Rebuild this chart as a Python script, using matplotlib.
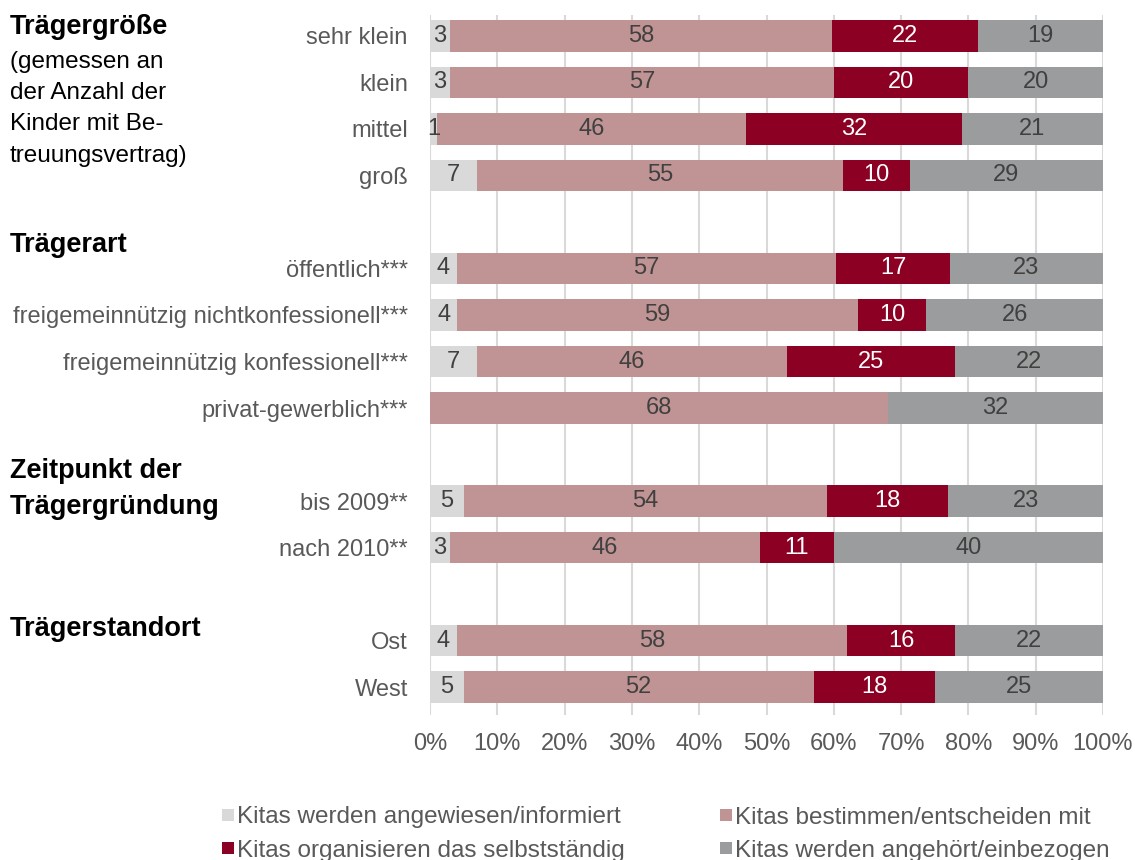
import matplotlib
matplotlib.use("Agg")
import matplotlib.pyplot as plt
from matplotlib.patches import Rectangle
import numpy as np

plt.rcParams['font.family'] = ['Liberation Sans', 'DejaVu Sans']

categories = ["sehr klein", "klein", "mittel", "groß",
              "öffentlich***", "freigemeinnützig nichtkonfessionell***",
              "freigemeinnützig konfessionell***", "privat-gewerblich***",
              "bis 2009**", "nach 2010**",
              "Ost", "West"]
positions = [0, 1, 2, 3, 5, 6, 7, 8, 10, 11, 13, 14]

series_names = ["Kitas werden angewiesen/informiert",
                "Kitas bestimmen/entscheiden mit",
                "Kitas organisieren das selbstständig",
                "Kitas werden angehört/einbezogen"]

informiert = [3, 3, 1, 7, 4, 4, 7, 0, 5, 3, 4, 5]
bestimmen = [58, 57, 46, 55, 57, 59, 46, 68, 54, 46, 58, 52]
organisieren = [22, 20, 32, 10, 17, 10, 25, 0, 18, 11, 16, 18]
angehoert = [19, 20, 21, 29, 23, 26, 22, 32, 23, 40, 22, 25]

colors = ["#D9D9D9", "#C09494", "#8B0023", "#9B9C9D"]
text_colors = ["#404040", "#404040", "#FFFFFF", "#404040"]

fig = plt.figure(figsize=(11.35, 8.6), dpi=100)
W, H = 1135, 860
ax = fig.add_axes([430 / W, 1 - 715 / H, 673 / W, 700 / H])

data = np.array([informiert, bestimmen, organisieren, angehoert], dtype=float)
totals = data.sum(axis=0)
shares = data / totals * 100

left = np.zeros(len(categories))
for i in range(4):
    ax.barh(positions, shares[i], left=left, height=0.68, color=colors[i],
            zorder=3, linewidth=0)
    for j, p in enumerate(positions):
        v = data[i][j]
        if v > 0:
            ax.text(left[j] + shares[i][j] / 2, p, f"{int(v)}", ha="center",
                    va="center", fontsize=17, color=text_colors[i], zorder=4)
    left += shares[i]

ax.set_xlim(0, 100)
ax.set_ylim(14.6, -0.45)
ax.set_xticks(np.arange(0, 101, 10))
ax.set_xticklabels([f"{t}%" for t in range(0, 101, 10)])
ax.set_yticks(positions)
ax.set_yticklabels(categories)
ax.tick_params(axis="both", length=0, labelsize=17, labelcolor="#595959")
ax.tick_params(axis="y", pad=16)
ax.tick_params(axis="x", pad=13)
ax.grid(axis="x", color="#D9D9D9", linewidth=1.5, zorder=0)
ax.set_axisbelow(True)
for s in ax.spines.values():
    s.set_visible(False)

def ftext(x, y, s, bold=False, size=17.5):
    fig.text(x / W, 1 - y / H, s, ha="left", va="center", fontsize=size,
             fontweight="bold" if bold else "normal", color="#000000")

ftext(10, 27, "Trägergröße", bold=True, size=19.5)
ftext(10, 62, "(gemessen an")
ftext(10, 93, "der Anzahl der")
ftext(10, 124, "Kinder mit Be-")
ftext(10, 156, "treuungsvertrag)")
ftext(10, 245, "Trägerart", bold=True, size=19.5)
ftext(10, 471, "Zeitpunkt der", bold=True, size=19.5)
ftext(10, 507, "Trägergründung", bold=True, size=19.5)
ftext(10, 629, "Trägerstandort", bold=True, size=19.5)

# legend (2 x 2 grid): row-major order
leg_order = [0, 1, 2, 3]
leg_x = [222, 720]
leg_y = [815, 848]
sq = 12
for n, k in enumerate(leg_order):
    r, c = divmod(n, 2)
    x0, y0 = leg_x[c], leg_y[r]
    fig.add_artist(Rectangle((x0 / W, 1 - (y0 + sq / 2) / H), sq / W, sq / H,
                             transform=fig.transFigure, facecolor=colors[k],
                             edgecolor="none"))
    fig.text((x0 + sq + 3) / W, 1 - y0 / H, series_names[k], ha="left",
             va="center_baseline", fontsize=17.5, color="#595959")

fig.savefig("out.png", dpi=100)
